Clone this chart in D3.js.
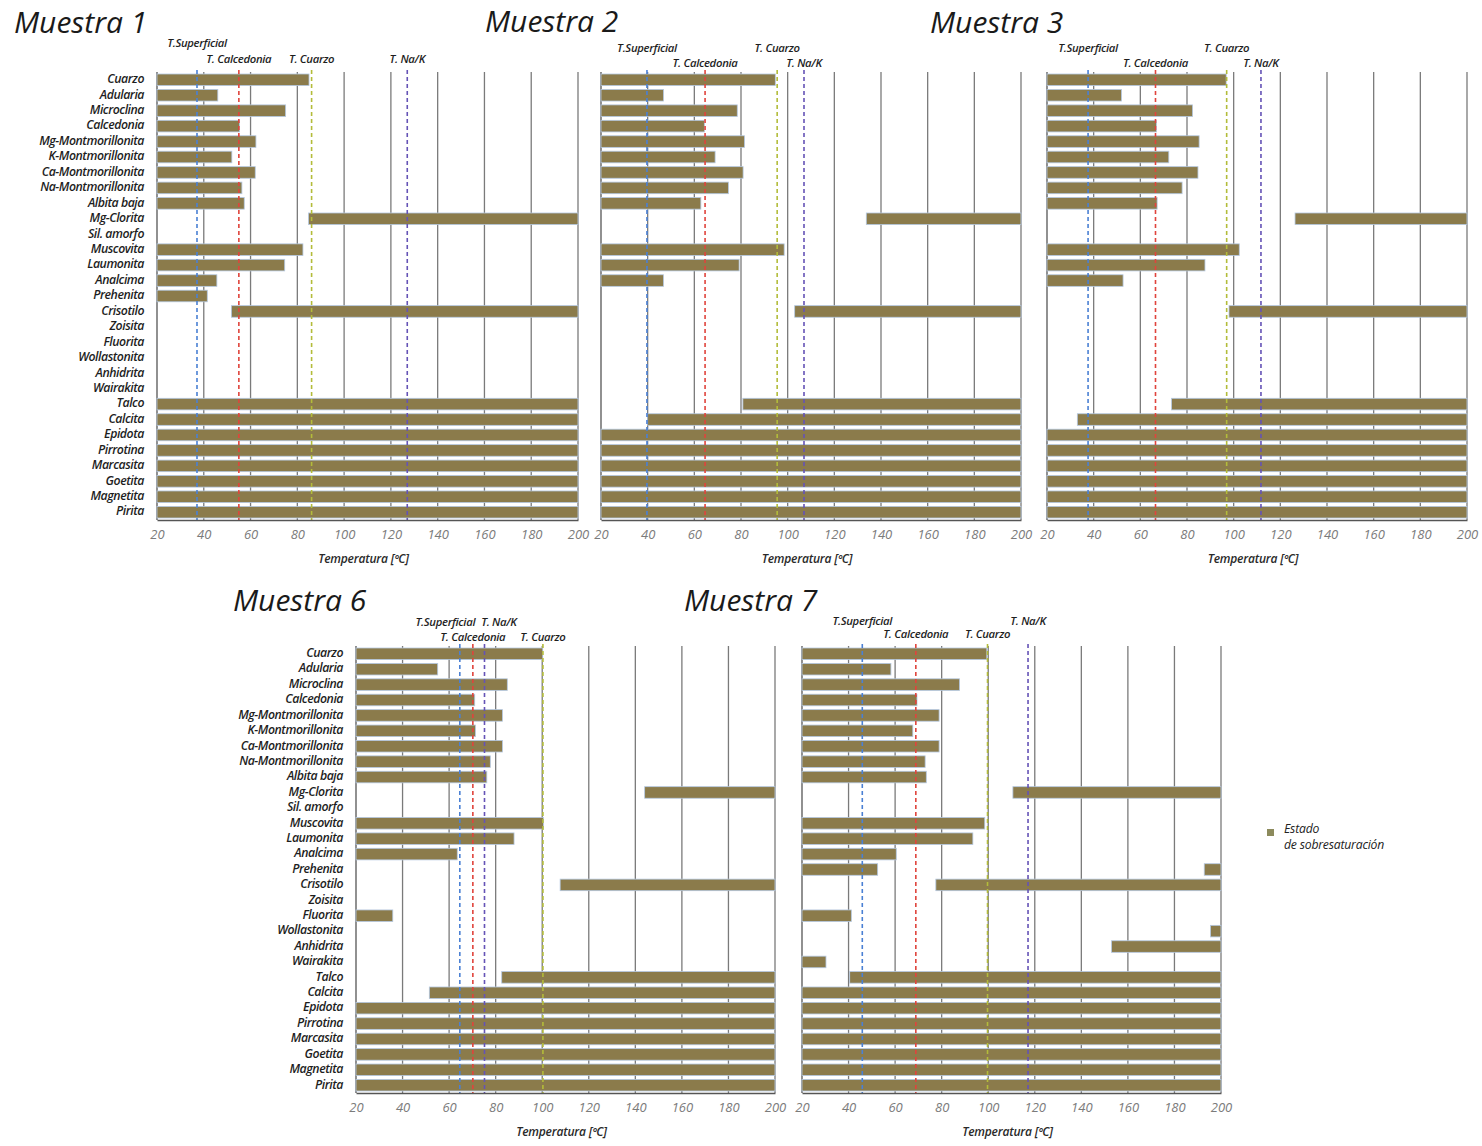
<!DOCTYPE html>
<html>
<head>
<meta charset="utf-8">
<script src="https://cdn.jsdelivr.net/npm/d3@7"></script>
<style>
  body { margin: 0; background: #fff; }
  svg text { font-family: "Open Sans", "Noto Sans", sans-serif; font-style: italic; }
</style>
</head>
<body>
<svg id="chart" width="1482" height="1146"></svg>
<script>
// Minerals, top to bottom
const minerals = [
  "Cuarzo", "Adularia", "Microclina", "Calcedonia", "Mg-Montmorillonita",
  "K-Montmorillonita", "Ca-Montmorillonita", "Na-Montmorillonita", "Albita baja",
  "Mg-Clorita", "Sil. amorfo", "Muscovita", "Laumonita", "Analcima", "Prehenita",
  "Crisotilo", "Zoisita", "Fluorita", "Wollastonita", "Anhidrita", "Wairakita",
  "Talco", "Calcita", "Epidota", "Pirrotina", "Marcasita", "Goetita", "Magnetita", "Pirita"
];

const xTicks = [20, 40, 60, 80, 100, 120, 140, 160, 180, 200];
const tempDomain = [20, 200];

const titles = ["Muestra 1", "Muestra 2", "Muestra 3", "Muestra 6", "Muestra 7"];

// Geothermometers: superficial, calcedonia, cuarzo, Na/K
const refNames = ["T.Superficial", "T. Calcedonia", "T. Cuarzo", "T. Na/K"];
const refTemps1 = [37.1, 55.0, 86.1, 127.0];
const refTemps2 = [39.7, 64.6, 95.5, 107.0];
const refTemps3 = [37.6, 66.5, 97.0, 111.7];
const refTemps6 = [64.6, 70.2, 100.3, 75.2];
const refTemps7 = [45.9, 68.9, 99.7, 117.1];

// Supersaturation intervals: [mineral, from °C, to °C]
const segments1 = [
  ["Cuarzo", 20, 85], ["Adularia", 20, 46], ["Microclina", 20, 75], ["Calcedonia", 20, 55.3],
  ["Mg-Montmorillonita", 20, 62.3], ["K-Montmorillonita", 20, 52], ["Ca-Montmorillonita", 20, 62],
  ["Na-Montmorillonita", 20, 56.3], ["Albita baja", 20, 57.3], ["Mg-Clorita", 84.8, 200],
  ["Muscovita", 20, 82.4], ["Laumonita", 20, 74.6], ["Analcima", 20, 45.6], ["Prehenita", 20, 41.5],
  ["Crisotilo", 51.8, 200], ["Talco", 20, 200], ["Calcita", 20, 200], ["Epidota", 20, 200],
  ["Pirrotina", 20, 200], ["Marcasita", 20, 200], ["Goetita", 20, 200], ["Magnetita", 20, 200],
  ["Pirita", 20, 200]
];
const segments2 = [
  ["Cuarzo", 20, 94.7], ["Adularia", 20, 46.8], ["Microclina", 20, 78.4], ["Calcedonia", 20, 64.3],
  ["Mg-Montmorillonita", 20, 81.5], ["K-Montmorillonita", 20, 68.9], ["Ca-Montmorillonita", 20, 80.9],
  ["Na-Montmorillonita", 20, 74.6], ["Albita baja", 20, 62.8], ["Mg-Clorita", 133.7, 200],
  ["Muscovita", 20, 98.5], ["Laumonita", 20, 79.2], ["Analcima", 20, 46.8],
  ["Crisotilo", 103, 200], ["Talco", 80.8, 200], ["Calcita", 40, 200], ["Epidota", 20, 200],
  ["Pirrotina", 20, 200], ["Marcasita", 20, 200], ["Goetita", 20, 200], ["Magnetita", 20, 200],
  ["Pirita", 20, 200]
];
const segments3 = [
  ["Cuarzo", 20, 96.8], ["Adularia", 20, 51.9], ["Microclina", 20, 82.4], ["Calcedonia", 20, 66.9],
  ["Mg-Montmorillonita", 20, 85.2], ["K-Montmorillonita", 20, 72.2], ["Ca-Montmorillonita", 20, 84.7],
  ["Na-Montmorillonita", 20, 77.9], ["Albita baja", 20, 67.2], ["Mg-Clorita", 126.3, 200],
  ["Muscovita", 20, 102.4], ["Laumonita", 20, 87.7], ["Analcima", 20, 52.6],
  ["Crisotilo", 98, 200], ["Talco", 73.4, 200], ["Calcita", 33, 200], ["Epidota", 20, 200],
  ["Pirrotina", 20, 200], ["Marcasita", 20, 200], ["Goetita", 20, 200], ["Magnetita", 20, 200],
  ["Pirita", 20, 200]
];
const segments6 = [
  ["Cuarzo", 20, 100.2], ["Adularia", 20, 55.1], ["Microclina", 20, 85], ["Calcedonia", 20, 71],
  ["Mg-Montmorillonita", 20, 82.9], ["K-Montmorillonita", 20, 71.3], ["Ca-Montmorillonita", 20, 82.9],
  ["Na-Montmorillonita", 20, 77.7], ["Albita baja", 20, 76.2], ["Mg-Clorita", 144, 200],
  ["Muscovita", 20, 100.5], ["Laumonita", 20, 87.9], ["Analcima", 20, 63.5],
  ["Crisotilo", 107.7, 200], ["Fluorita", 20, 35.8], ["Talco", 82.6, 200], ["Calcita", 51.5, 200],
  ["Epidota", 20, 200], ["Pirrotina", 20, 200], ["Marcasita", 20, 200], ["Goetita", 20, 200],
  ["Magnetita", 20, 200], ["Pirita", 20, 200]
];
const segments7 = [
  ["Cuarzo", 20, 99.4], ["Adularia", 20, 58.2], ["Microclina", 20, 87.7], ["Calcedonia", 20, 69.4],
  ["Mg-Montmorillonita", 20, 78.9], ["K-Montmorillonita", 20, 67.6], ["Ca-Montmorillonita", 20, 78.9],
  ["Na-Montmorillonita", 20, 72.9], ["Albita baja", 20, 73.4], ["Mg-Clorita", 110.6, 200],
  ["Muscovita", 20, 98.5], ["Laumonita", 20, 93.4], ["Analcima", 20, 60.5],
  ["Prehenita", 20, 52.5], ["Prehenita", 192.8, 200], ["Crisotilo", 77.5, 200],
  ["Fluorita", 20, 41.2], ["Wollastonita", 195.5, 200], ["Anhidrita", 153, 200],
  ["Wairakita", 20, 30.3], ["Talco", 40.5, 200], ["Calcita", 20, 200], ["Epidota", 20, 200],
  ["Pirrotina", 20, 200], ["Marcasita", 20, 200], ["Goetita", 20, 200], ["Magnetita", 20, 200],
  ["Pirita", 20, 200]
];

const legendLines = ["Estado", "de sobresaturación"];
const axisTitle = "Temperatura [ºC]";

// ---- styling ----
const barColor = "#8b7b4b";
const barEdge = "#b4c8e2";
const refColors = ["#4a80d4", "#e0443c", "#b3bc3a", "#6553b6"];

// ---- panel layout ----
const panels = [
  { title: titles[0], segs: segments1, refs: refTemps1, labelRow: [0, 1, 1, 1],
    x0: 157, x1: 578, top: 72, bottom: 520, yLabels: true, titleX: 14, titleY: 25, rowY: [44, 60] },
  { title: titles[1], segs: segments2, refs: refTemps2, labelRow: [0, 1, 0, 1],
    x0: 601, x1: 1021, top: 72, bottom: 520, yLabels: false, titleX: 485, titleY: 24, rowY: [49, 64] },
  { title: titles[2], segs: segments3, refs: refTemps3, labelRow: [0, 1, 0, 1],
    x0: 1047, x1: 1467, top: 72, bottom: 520, yLabels: false, titleX: 930, titleY: 25, rowY: [49, 64] },
  { title: titles[3], segs: segments6, refs: refTemps6, labelRow: [0, 1, 1, 0],
    x0: 356, x1: 775, top: 646, bottom: 1093, yLabels: true, titleX: 233, titleY: 603, rowY: [623, 638] },
  { title: titles[4], segs: segments7, refs: refTemps7, labelRow: [0, 1, 1, 0],
    x0: 802, x1: 1221, top: 646, bottom: 1093, yLabels: false, titleX: 684, titleY: 603, rowY: [622, 635] }
];

const svg = d3.select("#chart");

panels.forEach(p => {
  const g = svg.append("g");
  const x = d3.scaleLinear().domain(tempDomain).range([p.x0, p.x1]);
  const y = d3.scaleBand().domain(minerals).range([p.top, p.bottom]).paddingInner(0.25).paddingOuter(0.13);

  // title
  g.append("text")
    .attr("x", p.titleX).attr("y", p.titleY)
    .attr("dominant-baseline", "middle")
    .attr("font-size", 30).attr("fill", "#1a1a1a")
    .text(p.title);

  // vertical grid (every tick, including the frame edges)
  g.append("g").selectAll("line").data(xTicks).join("line")
    .attr("x1", d => x(d)).attr("x2", d => x(d))
    .attr("y1", p.top).attr("y2", p.bottom)
    .attr("stroke", d => d === 20 ? "#555" : "#7a7a7a")
    .attr("stroke-width", 1.3);

  // bars
  g.append("g").selectAll("rect").data(p.segs).join("rect")
    .attr("x", d => x(d[1]))
    .attr("width", d => x(d[2]) - x(d[1]))
    .attr("y", d => y(d[0]))
    .attr("height", y.bandwidth())
    .attr("fill", barColor)
    .attr("stroke", barEdge)
    .attr("stroke-width", 0.8);

  // geothermometer lines
  g.append("g").selectAll("line").data(p.refs).join("line")
    .attr("x1", d => x(d)).attr("x2", d => x(d))
    .attr("y1", p.top - 2).attr("y2", p.bottom)
    .attr("stroke", (d, i) => refColors[i])
    .attr("stroke-width", 1.6)
    .attr("stroke-dasharray", "4,3");

  // x axis
  const axis = d3.axisBottom(x).tickValues(xTicks).tickSize(0).tickPadding(10);
  const ax = g.append("g").attr("transform", `translate(0,${p.bottom})`).call(axis);
  ax.select(".domain").attr("stroke", "#555").attr("stroke-width", 1.5);
  ax.selectAll("text")
    .attr("font-size", 13).attr("fill", "#7b7b7b")
    .style("font-family", "'Open Sans', sans-serif").style("font-style", "italic");

  g.append("text")
    .attr("x", (p.x0 + p.x1) / 2 - 4).attr("y", p.bottom + 40)
    .attr("text-anchor", "middle").attr("dominant-baseline", "middle")
    .attr("font-size", 12).attr("font-weight", 600).attr("fill", "#2a2a2a")
    .attr("letter-spacing", -0.2)
    .text(axisTitle);

  // mineral names
  if (p.yLabels) {
    g.append("g").selectAll("text").data(minerals).join("text")
      .attr("x", p.x0 - 13)
      .attr("y", d => y(d) + y.bandwidth() / 2)
      .attr("text-anchor", "end").attr("dominant-baseline", "middle")
      .attr("font-size", 12.3).attr("font-weight", 600).attr("fill", "#1e1e1e")
      .attr("letter-spacing", -0.45)
      .text(d => d);
  }

  // geothermometer labels, in two staggered rows
  const labels = g.append("g").selectAll("text").data(p.refs.map((t, i) => ({ t, i }))).join("text")
    .attr("y", d => p.rowY[p.labelRow[d.i]])
    .attr("text-anchor", "middle").attr("dominant-baseline", "middle")
    .attr("font-size", 11.3).attr("font-weight", 600).attr("fill", "#1e1e1e")
    .attr("letter-spacing", -0.3)
    .text(d => refNames[d.i]);

  // push apart labels that would collide within a row
  const items = [];
  labels.each(function (d) {
    items.push({ node: this, row: p.labelRow[d.i], cx: x(d.t), w: this.getComputedTextLength() });
  });
  [0, 1].forEach(r => {
    const row = items.filter(o => o.row === r).sort((a, b) => a.cx - b.cx);
    for (let k = 1; k < row.length; k++) {
      const a = row[k - 1], b = row[k];
      const need = (a.w + b.w) / 2 + 6;
      const gap = b.cx - a.cx;
      if (gap < need) {
        const shift = (need - gap) / 2;
        a.cx -= shift; b.cx += shift;
      }
    }
  });
  items.forEach(o => d3.select(o.node).attr("x", o.cx));
});

// legend
const lg = svg.append("g").attr("transform", "translate(1267,830)");
lg.append("rect").attr("x", 0).attr("y", -1).attr("width", 7).attr("height", 7).attr("fill", "#8c8a5c");
lg.selectAll("text").data(legendLines).join("text")
  .attr("x", 17).attr("y", (d, i) => i * 16)
  .attr("dominant-baseline", "middle")
  .attr("font-size", 12.2).attr("fill", "#222")
  .attr("letter-spacing", -0.2)
  .text(d => d);
</script>
</body>
</html>
